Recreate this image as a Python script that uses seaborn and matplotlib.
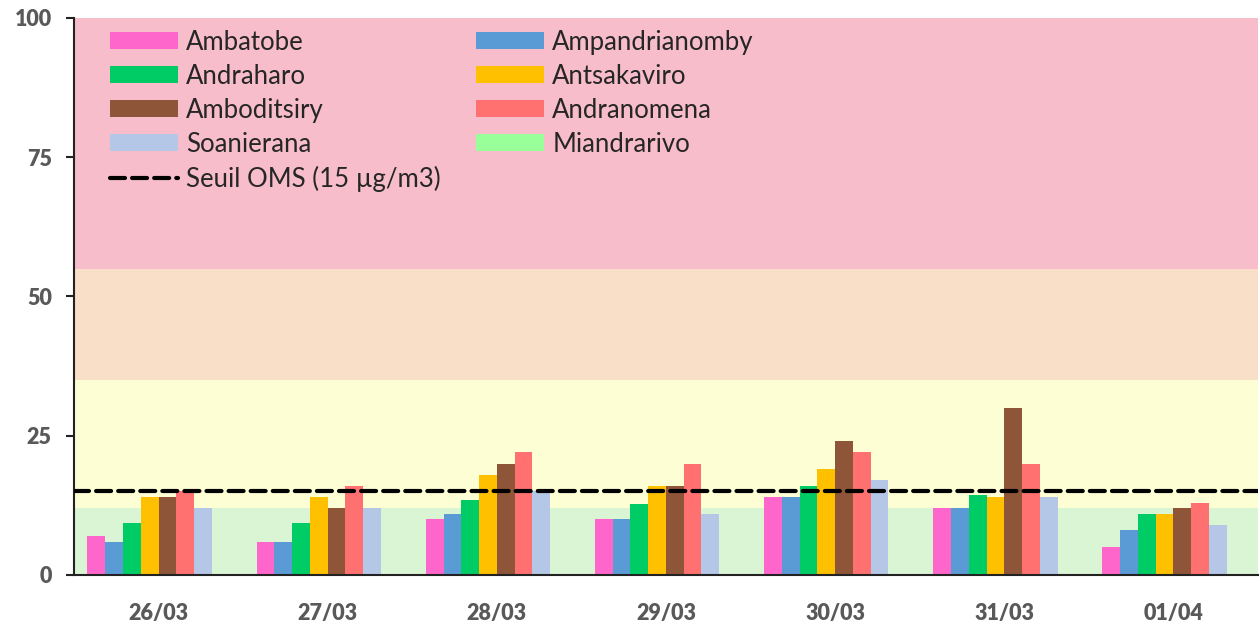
import pandas as pd
import matplotlib
matplotlib.use("Agg")
import matplotlib.pyplot as plt
from matplotlib.patches import Patch
from matplotlib.lines import Line2D
import seaborn as sns

# données PM2.5 (µg/m3) par station et par jour
dates = ["26/03", "27/03", "28/03", "29/03", "30/03", "31/03", "01/04"]
stations = ["Ambatobe", "Ampandrianomby", "Andraharo", "Antsakaviro",
            "Amboditsiry", "Andranomena", "Soanierana", "Miandrarivo"]

ambatobe = [7, 6, 10, 10, 14, 12, 5]
ampandrianomby = [6, 6, 11, 10, 14, 12, 8]
andraharo = [9.3, 9.3, 13.5, 12.7, 16, 14.4, 11]
antsakaviro = [14, 14, 18, 16, 19, 14, 11]
amboditsiry = [14, 12, 20, 16, 24, 30, 12]
andranomena = [15, 16, 22, 20, 22, 20, 13]
soanierana = [12, 12, 15, 11, 17, 14, 9]
miandrarivo = [None] * 7

seuil_oms = 15

# zones de qualité de l'air (bornes)
zone_bounds = [0, 12, 35, 55, 100]
zone_colors = ["#DAF5D4", "#FEFED5", "#FADFC8", "#F8BDCB"]

station_colors = ["#FF66CC", "#5B9BD5", "#00CC66", "#FFC000",
                  "#8F5538", "#FF7171", "#B4C7E7", "#99FF99"]

series = [ambatobe, ampandrianomby, andraharo, antsakaviro,
          amboditsiry, andranomena, soanierana, miandrarivo]
rows = []
for name, vals in zip(stations, series):
    for d, v in zip(dates, vals):
        rows.append({"date": d, "station": name, "value": v})
df = pd.DataFrame(rows)
df["value"] = df["value"].astype(float)

sns.set_theme(style="white")
plt.rcParams["font.family"] = ["Lato", "DejaVu Sans"]

fig = plt.figure(figsize=(12.6, 6.22), dpi=100)
ax = fig.add_axes([0.0587, 0.0756, 0.9397, 0.8955])

for i in range(len(zone_colors)):
    ax.axhspan(zone_bounds[i], zone_bounds[i + 1], color=zone_colors[i], zorder=0, lw=0)

palette = dict(zip(stations, station_colors))
sns.barplot(data=df, x="date", y="value", hue="station", order=dates,
            hue_order=stations, palette=palette, width=0.84, saturation=1,
            errorbar=None, legend=False, linewidth=0, ax=ax, zorder=2)

ax.axhline(seuil_oms, color="black", lw=3, linestyle=(0, (3.6, 1.7)),
           dash_capstyle="round", zorder=3)

ax.set_xlim(-0.5, len(dates) - 0.5)
ax.set_ylim(0, 100)
ax.set_yticks([0, 25, 50, 75, 100])
ax.set_xlabel("")
ax.set_ylabel("")

for side in ["top", "right"]:
    ax.spines[side].set_visible(False)
for side in ["left", "bottom"]:
    ax.spines[side].set_color("#222222")
    ax.spines[side].set_linewidth(1.5)

ax.tick_params(axis="y", which="both", left=True, length=6, width=1.5,
               color="#222222", labelsize=15.5, labelcolor="#595959", pad=10)
ax.tick_params(axis="x", bottom=False, labelsize=15.5, labelcolor="#595959", pad=14)
for lab in ax.get_xticklabels() + ax.get_yticklabels():
    lab.set_fontweight("heavy")

# légende sur deux colonnes (ordre par lignes comme dans Excel)
handles = [Patch(facecolor=c, edgecolor="none") for c in station_colors]
seuil_handle = Line2D([0], [0], color="black", lw=3, linestyle=(0, (3.6, 1.7)),
                      dash_capstyle="round")
col1 = [handles[0], handles[2], handles[4], handles[6], seuil_handle]
col2 = [handles[1], handles[3], handles[5], handles[7]]
lab1 = [stations[0], stations[2], stations[4], stations[6], "Seuil OMS (15 µg/m3)"]
lab2 = [stations[1], stations[3], stations[5], stations[7]]
ax.legend(col1 + col2, lab1 + lab2, ncol=2, loc="upper left",
          bbox_to_anchor=(0.0304, 0.979), frameon=False, fontsize=18.5,
          handlelength=2.65, handleheight=0.6, handletextpad=0.3,
          labelspacing=0.35, columnspacing=1.4, borderpad=0, borderaxespad=0)

fig.savefig("out.png", dpi=100)
